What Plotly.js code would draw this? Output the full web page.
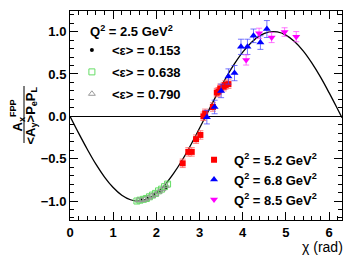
<!DOCTYPE html>
<html>
<head>
<meta charset="utf-8">
<script src="https://cdn.plot.ly/plotly-3.0.1.min.js"></script>
<style>html,body{margin:0;padding:0;background:#fff}#plot{width:353px;height:258px}</style>
</head>
<body>
<div id="plot"></div>
<script>
// Q2 = 2.5 GeV2 data
const blackX = [1.65, 1.80, 1.95, 2.10, 2.22];
const blackY = [-0.99, -0.97, -0.93, -0.88, -0.84];
const greenX = [1.55, 1.62, 1.70, 1.77, 1.84, 1.91, 1.98, 2.05, 2.12, 2.19, 2.26];
const greenY = [-1.00, -0.99, -0.98, -0.97, -0.95, -0.93, -0.91, -0.88, -0.86, -0.83, -0.80];
const greenE = [0.02, 0.02, 0.02, 0.02, 0.02, 0.02, 0.02, 0.02, 0.02, 0.02, 0.02];
const grayX = [1.58, 1.66, 1.74, 1.82, 1.90, 1.98, 2.06, 2.14, 2.22];
const grayY = [-0.99, -0.99, -0.98, -0.96, -0.94, -0.92, -0.89, -0.86, -0.82];
// Q2 = 5.2 GeV2
const redX = [2.61, 2.74, 2.82, 2.92, 3.02, 3.09, 3.13, 3.31, 3.40, 3.44, 3.48, 3.56, 3.60, 3.67];
const redY = [-0.555, -0.42, -0.42, -0.27, -0.22, 0.0, 0.035, 0.11, 0.28, 0.29, 0.33, 0.35, 0.37, 0.38];
const redE = [0.05, 0.05, 0.05, 0.05, 0.05, 0.05, 0.05, 0.05, 0.05, 0.05, 0.05, 0.05, 0.05, 0.05];
// Q2 = 6.8 GeV2
const blueX = [3.17, 3.35, 3.50, 3.67, 3.81, 3.96, 4.11, 4.25, 4.41, 4.56];
const blueY = [-0.01, 0.11, 0.30, 0.47, 0.51, 0.82, 0.82, 0.95, 0.87, 1.03];
const blueE = [0.08, 0.08, 0.08, 0.09, 0.09, 0.09, 0.09, 0.08, 0.08, 0.10];
// Q2 = 8.5 GeV2
const magX = [4.08, 4.38, 4.67, 4.97, 5.24];
const magY = [0.665, 0.98, 0.93, 0.995, 0.94];
const magE = [0.06, 0.06, 0.06, 0.05, 0.06];
// model curve points
const curveX = [0,0.2,0.4,0.6,0.8,1.0,1.2,1.4,1.6,1.8,2.0,2.2,2.4,2.6,2.8,3.0,3.2,3.4,3.6,3.8,4.0,4.2,4.4,4.6,4.8,5.0,5.2,5.4,5.6,5.8,6.0,6.2,6.3];
const curveY = [0,-0.199,-0.389,-0.565,-0.717,-0.841,-0.932,-0.985,-1.000,-0.974,-0.909,-0.808,-0.675,-0.516,-0.335,-0.141,0.058,0.256,0.443,0.612,0.757,0.872,0.952,0.994,0.996,0.959,0.883,0.773,0.631,0.465,0.279,0.083,-0.017];

const bold = {family: 'Liberation Sans, Arial, sans-serif', size: 13, color: '#000', weight: 'bold'};

const traces = [
  {x: curveX, y: curveY, mode: 'lines', line: {color: '#000', width: 1.3, shape: 'spline'}, showlegend: false, hoverinfo: 'skip'},
  {x: blackX, y: blackY, mode: 'markers', name: '&lt;ε&gt; = 0.153', legend: 'legend', legendgroup: 'a',
   marker: {symbol: 'circle', size: 4, color: '#000'}},
  {x: greenX, y: greenY, mode: 'markers', name: '&lt;ε&gt; = 0.638', legend: 'legend', legendgroup: 'b',
   marker: {symbol: 'square-open', size: 6, color: '#66dd66', line: {width: 1}},
   error_y: {type: 'data', array: greenE, color: 'rgba(102,221,102,0.6)', thickness: 1, width: 2}},
  {x: grayX, y: grayY, mode: 'markers', name: '&lt;ε&gt; = 0.790', legend: 'legend', legendgroup: 'c',
   marker: {symbol: 'triangle-up-open', size: 6, color: '#999', line: {width: 1}}},
  {x: redX, y: redY, mode: 'markers', name: 'Q<sup>2</sup> = 5.2 GeV<sup>2</sup>', legend: 'legend2',
   marker: {symbol: 'square', size: 6, color: '#ff0000'},
   error_y: {type: 'data', array: redE, color: 'rgba(255,80,80,0.7)', thickness: 1, width: 3}},
  {x: blueX, y: blueY, mode: 'markers', name: 'Q<sup>2</sup> = 6.8 GeV<sup>2</sup>', legend: 'legend2',
   marker: {symbol: 'triangle-up', size: 7, color: '#0000ff'},
   error_y: {type: 'data', array: blueE, color: 'rgba(60,60,255,0.7)', thickness: 1, width: 3}},
  {x: magX, y: magY, mode: 'markers', name: 'Q<sup>2</sup> = 8.5 GeV<sup>2</sup>', legend: 'legend2',
   marker: {symbol: 'triangle-down', size: 7, color: '#ff00ff'},
   error_y: {type: 'data', array: magE, color: 'rgba(255,60,255,0.7)', thickness: 1, width: 3}}
];

const layout = {
  width: 353, height: 258,
  margin: {l: 70, r: 11, t: 11, b: 38},
  paper_bgcolor: '#fff', plot_bgcolor: '#fff',
  showlegend: true,
  xaxis: {
    range: [0, 6.3], tickvals: [0, 1, 2, 3, 4, 5, 6], ticktext: ['0', '1', '2', '3', '4', '5', '6'],
    ticks: 'inside', ticklen: 8, tickcolor: '#000', tickwidth: 1,
    minor: {dtick: 0.2, tick0: 0, ticks: 'inside', ticklen: 4, tickcolor: '#000'},
    showline: true, linecolor: '#000', linewidth: 1, mirror: 'allticks',
    showgrid: false, zeroline: false, tickfont: bold, fixedrange: true
  },
  yaxis: {
    range: [-1.224, 1.243], tickvals: [-1, -0.5, 0, 0.5, 1], ticktext: ['−1.0', '−0.5', '0.0', '0.5', '1.0'],
    ticks: 'inside', ticklen: 8, tickcolor: '#000', tickwidth: 1,
    minor: {dtick: 0.1, tick0: 0, ticks: 'inside', ticklen: 4, tickcolor: '#000'},
    showline: true, linecolor: '#000', linewidth: 1, mirror: 'allticks',
    showgrid: false, zeroline: true, zerolinecolor: '#000', zerolinewidth: 1, tickfont: bold, fixedrange: true
  },
  legend: {x: 0.007, y: 0.885, xanchor: 'left', yanchor: 'top', font: bold, bgcolor: 'rgba(0,0,0,0)', borderwidth: 0,
           traceorder: 'grouped', tracegroupgap: 2},
  legend2: {x: 0.456, y: 0.36, xanchor: 'left', yanchor: 'top', font: bold, bgcolor: 'rgba(0,0,0,0)', borderwidth: 0, traceorder: 'normal'},
  annotations: [
    {xref: 'paper', yref: 'paper', x: 0.066, y: 0.904, xanchor: 'left', yanchor: 'middle', showarrow: false,
     text: 'Q<sup>2</sup> = 2.5 GeV<sup>2</sup>', font: bold},
    {xref: 'paper', yref: 'paper', x: 1.011, y: -0.1275, xanchor: 'right', yanchor: 'middle', showarrow: false,
     text: 'χ (rad)', font: {family: 'Liberation Sans, Arial, sans-serif', size: 14, color: '#000'}},
    {xref: 'paper', yref: 'paper', x: (17 - 70) / 272, y: 0.5, xanchor: 'center', yanchor: 'middle', showarrow: false,
     textangle: -90, text: 'A<sub>x</sub><sup>FPP</sup>', font: bold},
    {xref: 'paper', yref: 'paper', x: (31 - 70) / 272, y: 0.5, xanchor: 'center', yanchor: 'middle', showarrow: false,
     textangle: -90, text: '&lt;A<sub>y</sub>&gt;P<sub>e</sub>P<sub>L</sub>', font: bold}
  ],
  shapes: [
    {type: 'line', xref: 'paper', yref: 'paper', x0: (24 - 70) / 272, x1: (24 - 70) / 272, y0: (220 - 86) / 209, y1: (220 - 143) / 209,
     line: {color: '#000', width: 1}}
  ]
};

Plotly.newPlot('plot', traces, layout, {displayModeBar: false, staticPlot: true});
</script>
</body>
</html>
